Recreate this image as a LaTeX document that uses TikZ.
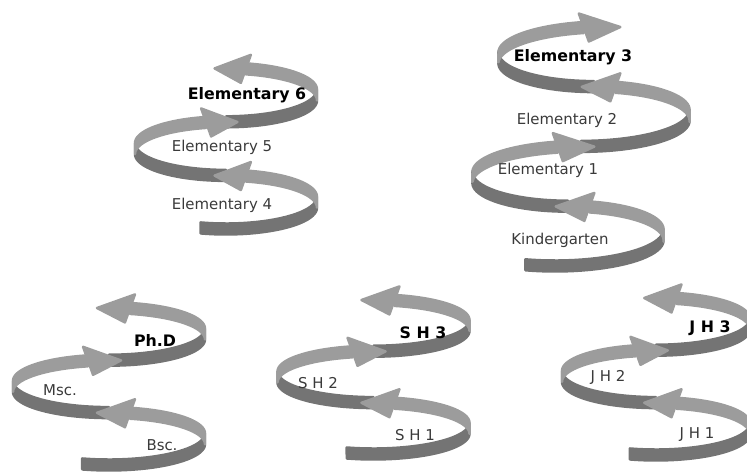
\documentclass[tikz,border=0pt]{standalone}
\usepackage{fontspec}
\setmainfont{DejaVu Sans}
\usetikzlibrary{calc}
\definecolor{bandlight}{HTML}{9C9C9C}
\definecolor{banddark}{HTML}{747474}
\definecolor{labelgray}{HTML}{3A3A3A}
\tikzset{
	lbl/.style={text=labelgray, font=\fontsize{8.5}{10}\selectfont},
	lbold/.style={text=black, font=\fontsize{9}{10}\selectfont\bfseries},
	rib/.style={line width=1.4pt, line join=round}
}
% helix ribbon: (centre x : half width : lean)(bottom y : half rise : half turns)
\def\helix(#1:#2:#3)(#4:#5:#6){%
	\foreach \hj in {1,...,#6}{%
		\pgfmathsetmacro{\hk}{\hj-1}
		\pgfmathsetmacro{\hc}{#4-#5-2*#5*\hk}
		\pgfmathsetmacro{\ua}{\hk-0.09*(\hk==0)}
		\pgfmathsetmacro{\um}{\hk+0.5}
		\pgfmathsetmacro{\ub}{\hk+0.93}
		\filldraw[rib, banddark] plot[domain=\ua:\um] ({#1+#3*\x+#2*sin(180*\x)},{\hc+#5*cos(180*(\x-\hk))-5.5})
			-- plot[domain=\um:\ua] ({#1+#3*\x+#2*sin(180*\x)},{\hc+#5*cos(180*(\x-\hk))+5.5}) -- cycle;
		\filldraw[rib, bandlight] plot[domain=\um:\ub] ({#1+#3*\x+#2*sin(180*\x)},{\hc+#5*cos(180*(\x-\hk))-5.5})
			-- plot[domain=\ub:\um] ({#1+#3*\x+#2*sin(180*\x)},{\hc+#5*cos(180*(\x-\hk))+5.5}) -- cycle;
	}
	\foreach \hj in {1,...,#6}{%
		\pgfmathsetmacro{\hc}{#4-#5-2*#5*(\hj-1)}
		\pgfmathsetmacro{\dirs}{cos(180*\hj)}
		\pgfmathsetmacro{\tipx}{#1+#3*(\hj+0.04)+#2*sin(180*(\hj+0.04))}
		\pgfmathsetmacro{\tipy}{\hc+#5*cos(180*1.04)}
		\pgfmathsetmacro{\basex}{#1+#3*(\hj-0.07)+#2*sin(180*(\hj-0.07))}
		\pgfmathsetmacro{\basey}{\hc+#5*cos(180*0.93)}
		\pgfmathsetmacro{\upx}{\basex-5*\dirs}
		\pgfmathsetmacro{\lox}{\basex+5*\dirs}
		\filldraw[rib, bandlight] (\tipx,\tipy) -- ({\upx},{\basey-14}) -- ({\lox},{\basey+14}) -- cycle;
	}
}

\begin{document}
\begin{tikzpicture}[x=0.02cm, y=-0.02cm]
	%%%%% START %%%%%
	\useasboundingbox (0,0) rectangle (747,473);
	
	% elementary 4-6
	\helix(226:91:0)(229:26.8:3)
	% kindergarten - elementary 3
	\helix(555:102:13)(266:29.9:4)
	% bsc - phd
	\helix(109:96:0)(465:26.2:3)
	% senior high
	\helix(373.5:96:0)(454:25.7:3)
	% junior high
	\helix(656:94:0)(455:26.2:3)
	
	\node[lbold] (el6) at (247,95) {Elementary 6};
	\node[lbl] (el5) at (222,147) {Elementary 5};
	\node[lbl] (el4) at (222,205) {Elementary 4};
	
	\node[lbold] (el3) at (573,57) {Elementary 3};
	\node[lbl] (el2) at (567,120) {Elementary 2};
	\node[lbl] (el1) at (548,170) {Elementary 1};
	\node[lbl] (kg) at (560,240) {Kindergarten};
	
	\node[lbold] (phd) at (155,340) {Ph.D};
	\node[lbl] (msc) at (60,390) {Msc.};
	\node[lbl] (bsc) at (162,445) {Bsc.};
	
	\node[lbold] (sh3) at (423,333) {S H 3};
	\node[lbl] (sh2) at (318,383) {S H 2};
	\node[lbl] (sh1) at (415,435) {S H 1};
	
	\node[lbold] (jh3) at (710,328) {J H 3};
	\node[lbl] (jh2) at (608,377) {J H 2};
	\node[lbl] (jh1) at (697,435) {J H 1};
	
	%%%%% END %%%%%
\end{tikzpicture}
\end{document}
